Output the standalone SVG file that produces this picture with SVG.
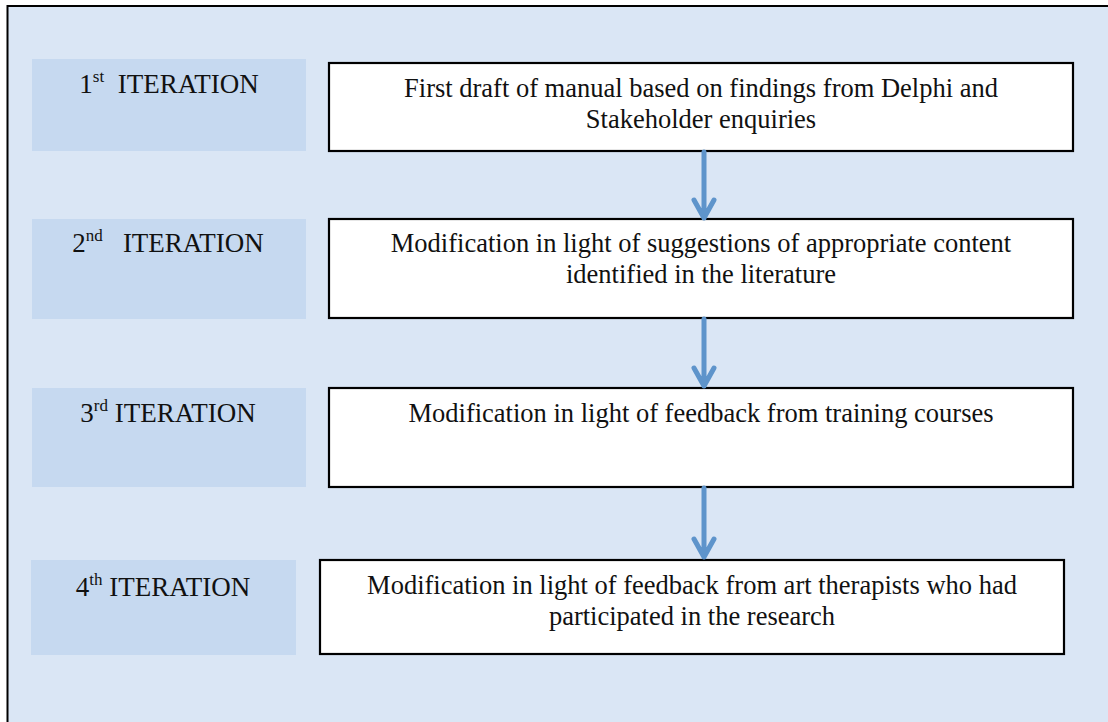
<svg xmlns="http://www.w3.org/2000/svg" width="1108" height="722" viewBox="0 0 1108 722">
<defs>
<style>
.frame{fill:#dae6f5;stroke:#000;stroke-width:2}
.lab{fill:#c6d9f0}
.box{fill:#fff;stroke:#000;stroke-width:2.2}
.lt{font-family:"Liberation Serif","Times New Roman",serif;font-size:27px;fill:#111;text-anchor:middle}
.bt{font-family:"Liberation Serif","Times New Roman",serif;font-size:26.5px;fill:#111;text-anchor:middle}
.sup{font-size:17px}
.arr{fill:none;stroke:#5e94cb;stroke-width:5;stroke-linecap:round;stroke-linejoin:round}
</style>
</defs>
<rect class="frame" x="7.5" y="6" width="1120" height="740"/>
<g id="label1"><rect class="lab" x="32" y="59" width="274" height="92"/><text class="lt" x="169" y="93" xml:space="preserve">1<tspan class="sup" dy="-11">st</tspan><tspan dy="11">  ITERATION</tspan></text></g>
<g id="label2"><rect class="lab" x="32" y="219" width="274" height="100"/><text class="lt" x="168" y="252" xml:space="preserve">2<tspan class="sup" dy="-11">nd</tspan><tspan dy="11">   ITERATION</tspan></text></g>
<g id="label3"><rect class="lab" x="32" y="388" width="274" height="99"/><text class="lt" x="168" y="422">3<tspan class="sup" dy="-11">rd</tspan><tspan dy="11"> ITERATION</tspan></text></g>
<g id="label4"><rect class="lab" x="31" y="560" width="265" height="95"/><text class="lt" x="163" y="596">4<tspan class="sup" dy="-11">th</tspan><tspan dy="11"> ITERATION</tspan></text></g>
<g id="box1"><rect class="box" x="329" y="63" width="744" height="88"/><text class="bt" x="701" y="97">First draft of manual based on findings from Delphi and</text><text class="bt" x="701" y="128">Stakeholder enquiries</text></g>
<g id="box2"><rect class="box" x="329" y="219" width="744" height="99"/><text class="bt" x="701" y="252">Modification in light of suggestions of appropriate content</text><text class="bt" x="701" y="283">identified in the literature</text></g>
<g id="box3"><rect class="box" x="329" y="388" width="744" height="99"/><text class="bt" x="701" y="422">Modification in light of feedback from training courses</text></g>
<g id="box4"><rect class="box" x="320" y="560" width="744" height="94"/><text class="bt" x="692" y="594">Modification in light of feedback from art therapists who had</text><text class="bt" x="692" y="625">participated in the research</text></g>
<g id="connectors">
<path class="arr" d="M704 152V218M694 200L704 218L714 200"/>
<path class="arr" d="M704 319V386M694 368L704 386L714 368"/>
<path class="arr" d="M704 488V557M694 539L704 557L714 539"/>
</g>
</svg>
